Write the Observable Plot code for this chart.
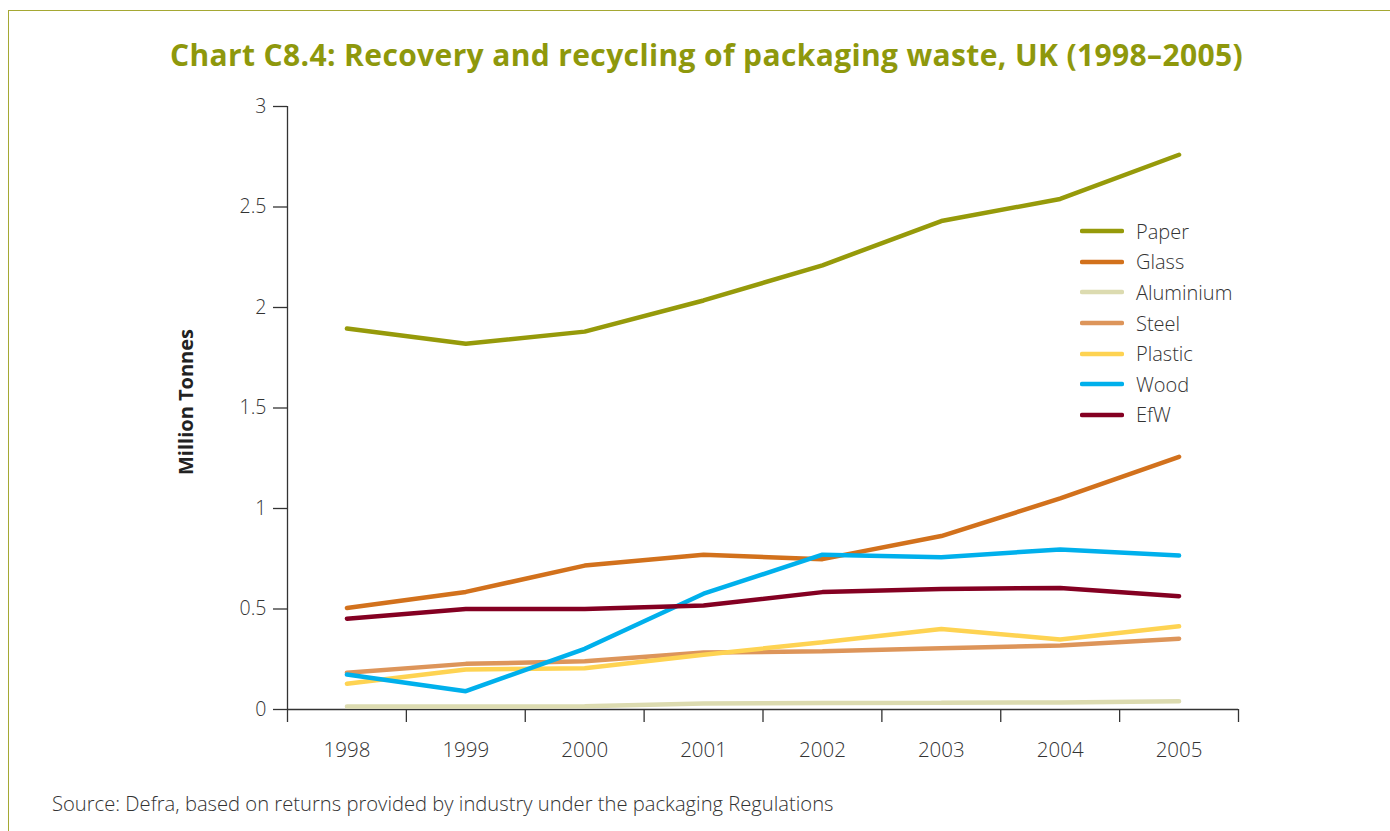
<!DOCTYPE html>
<html>
<head>
<meta charset="utf-8">
<script src="https://cdn.jsdelivr.net/npm/d3@7"></script>
<script src="https://cdn.jsdelivr.net/npm/@observablehq/plot@0.6"></script>
<style>
  html, body { margin: 0; padding: 0; background: #fff; }
  #wrap { position: relative; width: 1390px; height: 831px; overflow: hidden; font-family: "Open Sans", "Noto Sans", sans-serif; color: #333; }
  #frame { position: absolute; left: 8px; top: 10px; width: 1500px; height: 900px; border-top: 1.5px solid #a5a833; border-left: 1.5px solid #a5a833; }
  #title { position: absolute; top: 34px; left: 0; width: 1413px; text-align: center; font-weight: 700; font-size: 30px; color: #8e980c; white-space: nowrap; }
  #title span { display: inline-block; }
  #chart { position: absolute; left: 0; top: 0; }
  #ylabel { position: absolute; left: 185px; top: 402px; transform: translate(-50%, -50%) rotate(-90deg); font-weight: 700; font-size: 20px; color: #222; white-space: nowrap; }
  #caption { position: absolute; left: 52px; top: 793px; font-size: 20.2px; line-height: 20.5px; font-weight: 300; color: #333; white-space: nowrap; }
  #legend { position: absolute; left: 1080px; top: 216px; }
  .item { display: flex; align-items: center; height: 30.6px; font-size: 20px; font-weight: 300; color: #333; }
  .item svg { margin-right: 12px; }
</style>
</head>
<body>
<div id="wrap">
  <div id="frame"></div>
  <div id="title"><span id="tspan">Chart C8.4: Recovery and recycling of packaging waste, UK (1998–2005)</span></div>
  <div id="chart"></div>
  <div id="ylabel">Million Tonnes</div>
  <div id="legend"></div>
  <div id="caption">Source: Defra, based on returns provided by industry under the packaging Regulations</div>
</div>
<script>
const years = [1998, 1999, 2000, 2001, 2002, 2003, 2004, 2005];
const seriesNames = ["Paper", "Glass", "Aluminium", "Steel", "Plastic", "Wood", "EfW"];
const colors = ["#969a0a", "#d2711c", "#dcdbb0", "#dd955a", "#fed352", "#00b0ec", "#840022"];
const paper     = [1.895, 1.82, 1.88, 2.035, 2.21, 2.43, 2.54, 2.76];
const glass     = [0.505, 0.585, 0.716, 0.77, 0.748, 0.863, 1.05, 1.257];
const aluminium = [0.015, 0.015, 0.016, 0.03, 0.032, 0.033, 0.035, 0.041];
const steel     = [0.183, 0.227, 0.24, 0.283, 0.29, 0.305, 0.318, 0.352];
const plastic   = [0.128, 0.199, 0.205, 0.272, 0.335, 0.401, 0.348, 0.414];
const wood      = [0.174, 0.091, 0.302, 0.576, 0.77, 0.758, 0.796, 0.766];
const efw       = [0.452, 0.50, 0.50, 0.517, 0.584, 0.60, 0.605, 0.564];
const yTicks = [0, 0.5, 1, 1.5, 2, 2.5, 3];
const yTickLabels = ["0", "0.5", "1", "1.5", "2", "2.5", "3"];

const allSeries = [paper, glass, aluminium, steel, plastic, wood, efw];
const data = [];
seriesNames.forEach((name, i) => {
  years.forEach((yr, j) => data.push({series: name, year: yr, value: allSeries[i][j]}));
});
const boundaries = d3.range(years.length + 1).map(i => years[0] - 0.5 + i);

const plot = Plot.plot({
  width: 1390,
  height: 831,
  marginLeft: 287,
  marginRight: 152,
  marginTop: 106,
  marginBottom: 122,
  style: {fontFamily: '"Open Sans", "Noto Sans", sans-serif', fontSize: "20px", fontWeight: 300, color: "#333", background: "transparent"},
  x: {domain: [boundaries[0], boundaries[boundaries.length - 1]]},
  y: {domain: [0, 3]},
  color: {domain: seriesNames, range: colors},
  marks: [
    Plot.axisY({ticks: yTicks, tickFormat: (d, i) => yTickLabels[i], tickSize: 14, tickPadding: 7, stroke: "#333", strokeWidth: 1.3, label: null, fill: "#333", fontSize: 19.5}),
    Plot.axisX({ticks: boundaries, tickFormat: () => "", tickSize: 13, stroke: "#333", strokeWidth: 1.3, label: null}),
    Plot.axisX({ticks: years, tickFormat: d => String(d), tickSize: 0, tickPadding: 33, label: null, fill: "#333", fontSize: 20.5}),
    Plot.ruleX([boundaries[0]], {y1: 0, y2: 3, stroke: "#333", strokeWidth: 1.3}),
    Plot.ruleY([0], {stroke: "#333", strokeWidth: 1.3}),
    Plot.line(data, {x: "year", y: "value", z: "series", stroke: "series", strokeWidth: 4.5, strokeLinejoin: "miter", strokeLinecap: "round"})
  ]
});
document.getElementById("chart").appendChild(plot);

// legend
const legend = document.getElementById("legend");
seriesNames.forEach((name, i) => {
  const item = document.createElement("div");
  item.className = "item";
  item.innerHTML = `<svg width="44" height="8"><line x1="2" y1="4" x2="42" y2="4" stroke="${colors[i]}" stroke-width="4.5" stroke-linecap="round"/></svg><span>${name}</span>`;
  legend.appendChild(item);
});

// fit title width
const ts = document.getElementById("tspan");
const target = 1073;
const w = ts.getBoundingClientRect().width;
const n = ts.textContent.length;
ts.style.letterSpacing = ((target - w) / n) + "px";
</script>
</body>
</html>
